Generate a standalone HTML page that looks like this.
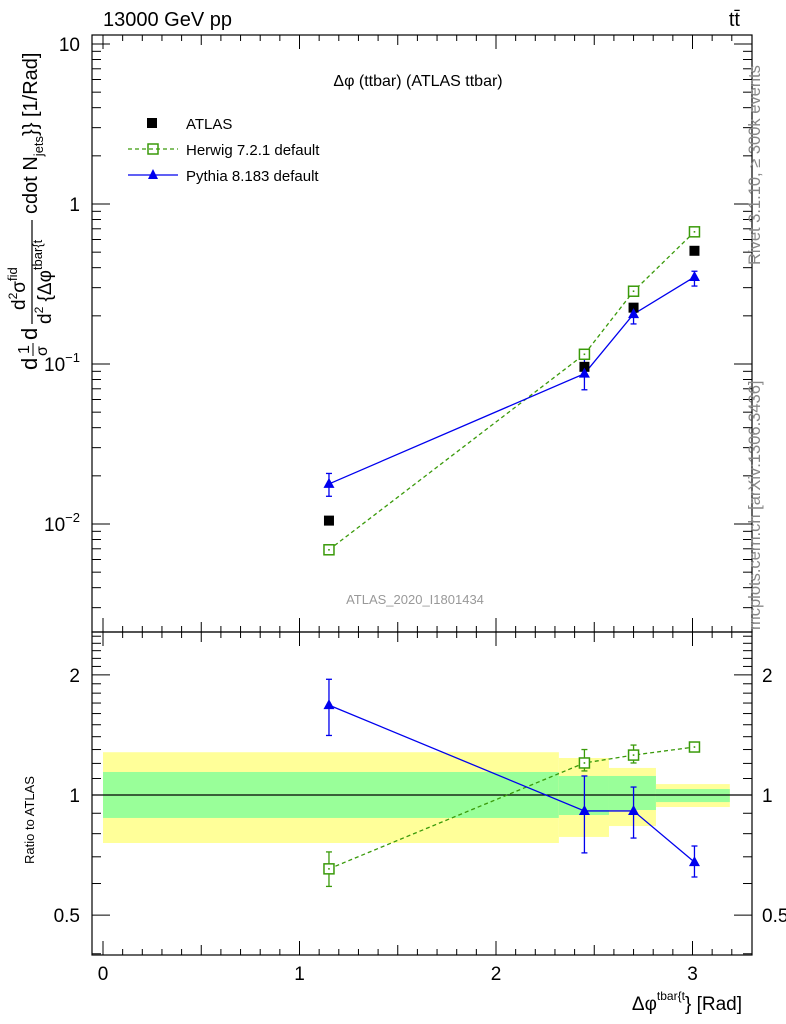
<!DOCTYPE html>
<html><head><meta charset="utf-8"><style>
body{margin:0;background:#fff}
svg{font-family:"Liberation Sans",sans-serif;display:block}
</style></head><body>
<svg id="chart" width="786" height="1024" viewBox="0 0 786 1024">
<rect width="786" height="1024" fill="#fff"/>
<g id="bands"></g>
<g id="axes"></g>
<g id="series"></g>
<text x="103" y="26" font-size="20">13000 GeV pp</text>
<text x="740" y="26" font-size="20" text-anchor="end">tt̄</text>
<text x="418" y="86" font-size="16" text-anchor="middle">Δφ (ttbar) (ATLAS ttbar)</text>
<text x="415" y="604" font-size="13" fill="#999" text-anchor="middle">ATLAS_2020_I1801434</text>
<g>
<rect x="147" y="118" width="10" height="10" fill="#000"/>
<text x="186" y="129" font-size="15">ATLAS</text>
<line x1="128" y1="149" x2="178" y2="149" stroke="#3a9a0a" stroke-width="1.3" stroke-dasharray="4,3"/>
<rect x="148" y="144" width="10" height="10" fill="none" stroke="#3a9a0a" stroke-width="1.5"/>
<text x="186" y="155" font-size="15">Herwig 7.2.1 default</text>
<line x1="128" y1="175" x2="178" y2="175" stroke="#0000ee" stroke-width="1.3"/>
<path d="M153,169 L158,179 L148,179 Z" fill="#0000ee"/>
<text x="186" y="181" font-size="15">Pythia 8.183 default</text>
</g>
<text transform="translate(760,265) rotate(-90)" font-size="16.5" fill="#888">Rivet 3.1.10, ≥ 300k events</text>
<text transform="translate(760,630) rotate(-90)" font-size="16.5" fill="#888">mcplots.cern.ch [arXiv:1306.3436]</text>
<g transform="translate(37,370) rotate(-90)">
<text x="0" y="0" font-size="22">d</text>
<text x="16" y="-8" font-size="16">1</text>
<line x1="14" x2="27" y1="-4" y2="-4" stroke="#000" stroke-width="1"/>
<text x="14" y="10" font-size="16">σ</text>
<text x="30" y="0" font-size="22">d</text>
<text x="60" y="-12" font-size="19">d<tspan font-size="12" dy="-8">2</tspan><tspan dy="8">σ</tspan><tspan font-size="13" dy="-8">fid</tspan></text>
<line x1="46" x2="150" y1="-5" y2="-5" stroke="#000" stroke-width="1.2"/>
<text x="46" y="14" font-size="19">d<tspan font-size="12" dy="-8">2</tspan><tspan dy="8"> {Δφ</tspan><tspan font-size="13" dy="-9">tbar{t</tspan></text>
<text x="156" y="0" font-size="20">cdot N<tspan font-size="13" dy="6">jets</tspan><tspan dy="-6">}} [1/Rad]</tspan></text>
</g>
<text transform="translate(34,820) rotate(-90)" font-size="13" text-anchor="middle">Ratio to ATLAS</text>
<text x="742" y="1010" font-size="19" text-anchor="end">Δφ<tspan font-size="12" dy="-10">tbar{t</tspan><tspan dy="10">} [Rad]</tspan></text>
</svg>
<script>
const xs=[1.15,2.45,2.70,3.01];
const atlas=[0.0105,0.096,0.225,0.51];
const herwig=[0.0069,0.115,0.285,0.67];
const pythia=[0.0178,0.087,0.205,0.35];
const pythiaLo=[0.0149,0.069,0.178,0.307];
const pythiaHi=[0.0207,0.110,0.228,0.38];
const herwigRatio=[0.653,1.203,1.259,1.319];
const herwigRatioLo=[0.59,1.149,1.203,1.30];
const herwigRatioHi=[0.72,1.30,1.334,1.34];
const pythiaRatio=[1.68,0.912,0.912,0.679];
const pythiaRatioLo=[1.41,0.716,0.78,0.623];
const pythiaRatioHi=[1.95,1.116,1.047,0.745];
const binEdges=[0,2.32,2.575,2.814,3.19];
const yellowHi=[1.28,1.238,1.169,1.065];
const yellowLo=[0.758,0.785,0.836,0.933];
const greenHi=[1.142,1.116,1.116,1.035];
const greenLo=[0.876,0.891,0.917,0.960];
const mainTicks=[0.01,0.1,1,10];
const mainTickLabels=["10","10","1","10"];
const ratioTicks=[0.5,1,2];
const ratioTickLabels=["0.5","1","2"];
const xTicks=[0,1,2,3];

const NS="http://www.w3.org/2000/svg";
const L=92,R=752,T=35,M=632,B=955;
const X=v=>103+196.5*v;
const Y=v=>204-160*Math.log10(v);
const RY=v=>795-399*Math.log10(v);
function mk(p,tag,a){const e=document.createElementNS(NS,tag);for(const k in a)e.setAttribute(k,a[k]);p.appendChild(e);return e;}
const bands=document.getElementById('bands'),axes=document.getElementById('axes'),ser=document.getElementById('series');
for(let i=0;i<4;i++){
 const y=mk(bands,'rect',{x:X(binEdges[i]),y:RY(yellowHi[i]),width:X(binEdges[i+1])-X(binEdges[i]),height:RY(yellowLo[i])-RY(yellowHi[i]),fill:'#ffff99'});
 
 
 const g=mk(bands,'rect',{x:X(binEdges[i]),y:RY(greenHi[i]),width:X(binEdges[i+1])-X(binEdges[i]),height:RY(greenLo[i])-RY(greenHi[i]),fill:'#99ff99'});
 
 
}
mk(axes,'line',{x1:L,x2:R,y1:RY(1),y2:RY(1),stroke:'#000','stroke-width':1.2});
mk(axes,'rect',{x:L,y:T,width:R-L,height:M-T,fill:'none',stroke:'#000','stroke-width':1.2});
mk(axes,'rect',{x:L,y:M,width:R-L,height:B-M,fill:'none',stroke:'#000','stroke-width':1.2});
for(let k=0;k<=32;k++){const v=k/10;const px=X(v);if(px>R)break;
 const len=k%10==0?14:(k%5==0?10:6);
 [[T,1],[M,-1],[M,1],[B,-1]].forEach(([y0,d])=>mk(axes,'line',{x1:px,x2:px,y1:y0,y2:y0+d*len,stroke:'#000'}));}
xTicks.forEach(v=>{const t=mk(axes,'text',{x:X(v),y:980,'font-size':19,'text-anchor':'middle'});t.textContent=v;
 
 });
for(let e=-3;e<=1;e++)for(let m=1;m<=9;m++){const v=m*Math.pow(10,e);const py=Y(v);if(py<T||py>M)continue;
 const len=m==1?18:9;mk(axes,'line',{x1:L,x2:L+len,y1:py,y2:py,stroke:'#000'});mk(axes,'line',{x1:R,x2:R-len,y1:py,y2:py,stroke:'#000'});}
mainTicks.forEach((v,i)=>{const t=mk(axes,'text',{x:80,y:Y(v)+7,'font-size':19,'text-anchor':'end'});
 const a=mk(t,'tspan',{});a.textContent=mainTickLabels[i];
 if(v<1){const s=mk(t,'tspan',{dy:-9,'font-size':13});s.textContent='−'+Math.round(-Math.log10(v));}
 
 });
for(let k=4;k<=25;k++){const v=k/10;const py=RY(v);if(py<M||py>B)continue;
 const len=(k==5||k==10||k==20)?18:9;mk(axes,'line',{x1:L,x2:L+len,y1:py,y2:py,stroke:'#000'});mk(axes,'line',{x1:R,x2:R-len,y1:py,y2:py,stroke:'#000'});}
ratioTicks.forEach((v,i)=>{[[80,'end'],[762,'start']].forEach(([x,a])=>{const t=mk(axes,'text',{x:x,y:RY(v)+7,'font-size':19,'text-anchor':a});t.textContent=ratioTickLabels[i];
 
 });});
function line(vals,fy,col,dash,name){const p=mk(ser,'polyline',{points:xs.map((x,i)=>X(x)+','+fy(vals[i])).join(' '),fill:'none',stroke:col,'stroke-width':1.3,'stroke-dasharray':dash||'none'});
 
 }
function err(lo,hi,fy,col){xs.forEach((x,i)=>{const px=X(x);mk(ser,'line',{x1:px,x2:px,y1:fy(lo[i]),y2:fy(hi[i]),stroke:col,'stroke-width':1.3});
 mk(ser,'line',{x1:px-3,x2:px+3,y1:fy(lo[i]),y2:fy(lo[i]),stroke:col,'stroke-width':1.3});mk(ser,'line',{x1:px-3,x2:px+3,y1:fy(hi[i]),y2:fy(hi[i]),stroke:col,'stroke-width':1.3});});}
function squares(vals,fy,name){xs.forEach((x,i)=>{const r=mk(ser,'rect',{x:X(x)-5,y:fy(vals[i])-5,width:10,height:10,fill:'#fff',stroke:'#3a9a0a','stroke-width':1.5});
 
 
 mk(ser,'rect',{x:X(x)-0.8,y:fy(vals[i])-0.8,width:1.6,height:1.6,fill:'#3a9a0a'});});}
function tris(vals,fy,name){xs.forEach((x,i)=>{const px=X(x),py=fy(vals[i]);const t=mk(ser,'path',{d:`M${px},${py-6}L${px+5.5},${py+4}L${px-5.5},${py+4}Z`,fill:'#0000ee'});
 
 });}
line(herwig,Y,'#3a9a0a','4,3','herwig-line');
line(pythia,Y,'#0000ee',null,'pythia-line');
err(pythiaLo,pythiaHi,Y,'#0000ee');
xs.forEach((x,i)=>{const r=mk(ser,'rect',{x:X(x)-5,y:Y(atlas[i])-5,width:10,height:10,fill:'#000'});
 
 });
squares(herwig,Y,'herwig-point');
tris(pythia,Y,'pythia-point');
line(herwigRatio,RY,'#3a9a0a','4,3','herwig-ratio-line');
line(pythiaRatio,RY,'#0000ee',null,'pythia-ratio-line');
err(herwigRatioLo,herwigRatioHi,RY,'#3a9a0a');
err(pythiaRatioLo,pythiaRatioHi,RY,'#0000ee');
squares(herwigRatio,RY,'herwig-ratio-point');
tris(pythiaRatio,RY,'pythia-ratio-point');
</script>
</body></html>
